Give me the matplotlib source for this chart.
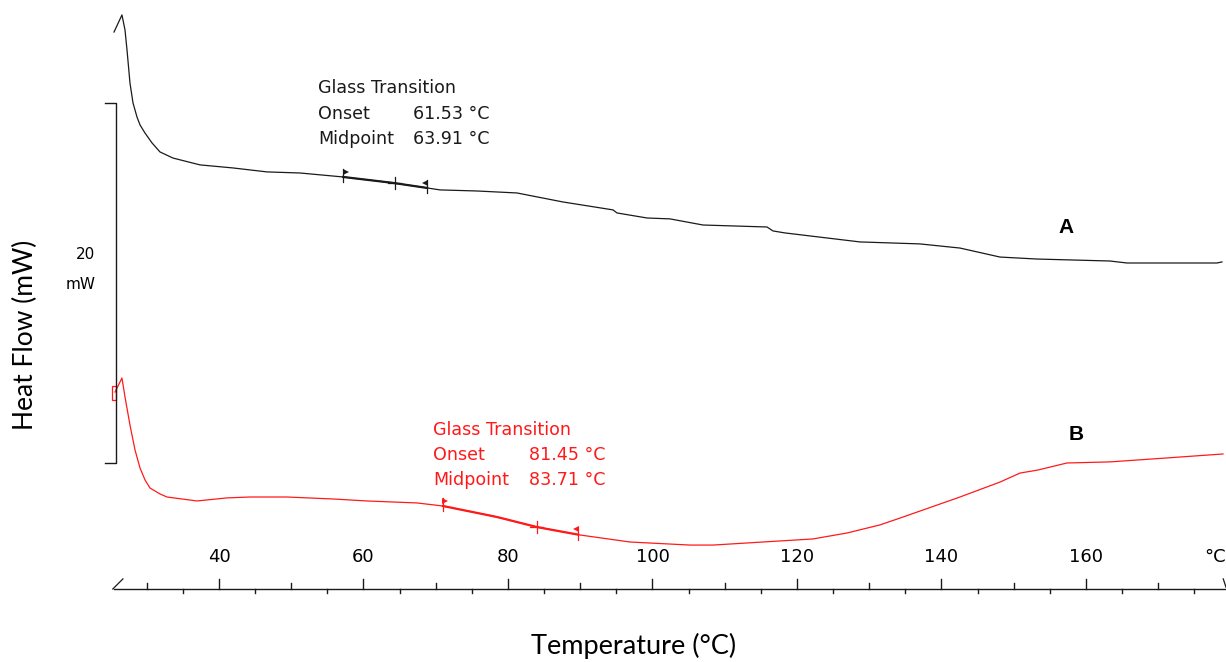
import numpy as np
import matplotlib
matplotlib.use("Agg")
import matplotlib.pyplot as plt

# DSC curves: temperature (°C) and heat flow (mW, arbitrary offset)
temp_a = [25.47, 26.57, 26.99, 27.27, 27.68, 28.10, 28.65, 29.07, 29.76, 30.73, 31.83,
          33.63, 37.37, 41.94, 46.64, 51.21, 57.16, 64.08, 68.79, 70.59, 75.71, 81.25,
          87.61, 94.53, 95.09, 99.24, 102.42, 106.99, 115.85, 116.68, 118.34, 124.15,
          128.72, 137.02, 142.56, 148.10, 153.22, 163.32, 165.67, 178.13, 178.82]
flow_a = [23.94, 24.89, 24.06, 22.94, 21.11, 20.00, 19.22, 18.78, 18.33, 17.78, 17.28,
          16.94, 16.56, 16.39, 16.17, 16.11, 15.89, 15.56, 15.28, 15.17, 15.11, 15.00,
          14.50, 14.06, 13.89, 13.61, 13.56, 13.22, 13.11, 12.89, 12.78, 12.50,
          12.28, 12.17, 11.94, 11.44, 11.33, 11.22, 11.11, 11.11, 11.17]

temp_b = [25.61, 26.57, 26.99, 27.68, 28.38, 29.07, 29.76, 30.45, 31.83, 32.80, 36.96,
          41.11, 44.29, 49.41, 55.78, 60.48, 67.40, 71.00, 78.48, 84.01, 89.97, 96.89,
          105.19, 108.37, 115.29, 122.21, 126.92, 131.49, 134.26, 142.56, 148.10,
          150.87, 153.36, 157.37, 163.32, 171.21, 178.96]
flow_b = [3.94, 4.72, 3.67, 2.11, 0.72, -0.28, -0.94, -1.39, -1.72, -1.89, -2.11,
          -1.94, -1.89, -1.89, -2.00, -2.11, -2.22, -2.39, -3.00, -3.56, -4.00, -4.39,
          -4.56, -4.56, -4.39, -4.22, -3.89, -3.44, -3.06, -1.89, -1.06,
          -0.56, -0.39, 0.00, 0.06, 0.28, 0.50]

# glass transition analysis: left limit, midpoint, right limit
tg_a = [57.2, 64.3, 68.8]
tg_b = [71.0, 84.0, 89.7]
onset_a, mid_a = "61.53", "63.91"
onset_b, mid_b = "81.45", "83.71"

tick_labels = [40, 60, 80, 100, 120, 140, 160]
all_ticks = list(range(30, 180, 5))

black = "#1a1a1a"
red = "#ff1a1a"

fig = plt.figure(figsize=(12.26, 6.62), dpi=100)
ax = fig.add_axes([0, 0, 1, 1])
ax.set_xlim(9.69, 179.38)
ax.set_ylim(-11.056, 25.72)
ax.axis("off")

# curves
ax.plot(temp_a, flow_a, color=black, lw=0.9)
ax.plot(temp_b, flow_b, color=red, lw=0.9)


def tg_marks(temps, xs, ys, color):
    t0, tm, t1 = temps
    seg = np.linspace(t0, t1, 20)
    ax.plot(seg, np.interp(seg, xs, ys), color=color, lw=1.6)
    y0, ym, y1 = np.interp(temps, xs, ys)
    ax.plot([t0, t0], [y0 - 0.3, y0 + 0.45], color=color, lw=0.9)
    ax.plot([t0 + 0.35], [y0 + 0.3], marker=">", ms=4.5, color=color, mew=0)
    ax.plot([t1, t1], [y1 - 0.3, y1 + 0.45], color=color, lw=0.9)
    ax.plot([t1 - 0.35], [y1 + 0.3], marker="<", ms=4.5, color=color, mew=0)
    ax.plot([tm, tm], [ym - 0.35, ym + 0.35], color=color, lw=0.9)
    ax.plot([tm - 0.9, tm + 0.9], [ym, ym], color=color, lw=0.9)


tg_marks(tg_a, temp_a, flow_a, black)
tg_marks(tg_b, temp_b, flow_b, red)

# small red bracket at start of B
ax.add_patch(plt.Rectangle((25.25, 3.5), 0.45, 0.8, fill=False, ec=red, lw=0.9))

# annotations
tfont = dict(family="DejaVu Sans", fontsize=12.6, va="center", ha="left")
ax.text(53.7, 20.83, "Glass Transition", color=black, **tfont)
ax.text(53.7, 19.39, "Onset", color=black, **tfont)
ax.text(53.7, 17.98, "Midpoint", color=black, **tfont)
ax.text(66.85, 19.39, onset_a + " °C", color=black, **tfont)
ax.text(66.85, 17.98, mid_a + " °C", color=black, **tfont)

ax.text(69.6, 1.83, "Glass Transition", color=red, **tfont)
ax.text(69.6, 0.44, "Onset", color=red, **tfont)
ax.text(69.6, -0.96, "Midpoint", color=red, **tfont)
ax.text(82.9, 0.44, onset_b + " °C", color=red, **tfont)
ax.text(82.9, -0.96, mid_b + " °C", color=red, **tfont)

ax.text(157.2, 13.06, "A", fontsize=15, fontweight="bold", family="Liberation Sans",
        ha="center", va="center", color="black")
ax.text(158.6, 1.56, "B", fontsize=15, fontweight="bold", family="Liberation Sans",
        ha="center", va="center", color="black")

# 20 mW scale bar
ax.plot([24.2, 25.74, 25.74, 24.2], [20, 20, 0, 0], color=black, lw=1.0)
ax.text(22.9, 11.56, "20", fontsize=11, family="DejaVu Sans", ha="right", va="center")
ax.text(22.9, 9.89, "mW", fontsize=11, family="DejaVu Sans", ha="right", va="center")

# temperature axis
y_ax = -7.0
ax.plot([25.5, 179.38], [y_ax, y_ax], color=black, lw=1.0)
for t in all_ticks:
    if t in tick_labels:
        ax.plot([t, t], [y_ax, y_ax + 0.56], color=black, lw=1.0)
    elif t % 10 == 0:
        ax.plot([t, t], [y_ax, y_ax + 0.33], color=black, lw=1.0)
    else:
        ax.plot([t, t], [y_ax, y_ax - 0.22], color=black, lw=1.0)
ax.plot([25.3, 26.7], [y_ax, y_ax + 0.56], color=black, lw=0.9)
ax.plot([179.0, 179.38], [y_ax + 0.56, y_ax + 0.1], color=black, lw=0.9)
for t in tick_labels:
    ax.text(t, -5.22, str(t), fontsize=13, family="DejaVu Sans",
            ha="center", va="center")
ax.text(179.38, -5.22, "°C", fontsize=13, family="DejaVu Sans",
        ha="right", va="center")

fig.text(634 / 1226, 1 - 646 / 662, "Temperature (°C)", fontsize=19.5, family="Lato",
         ha="center", va="center")
fig.text(25 / 1226, 1 - 335 / 662, "Heat Flow (mW)", fontsize=19, family="Lato",
         ha="center", va="center", rotation=90)

fig.savefig("out.png", dpi=100)
